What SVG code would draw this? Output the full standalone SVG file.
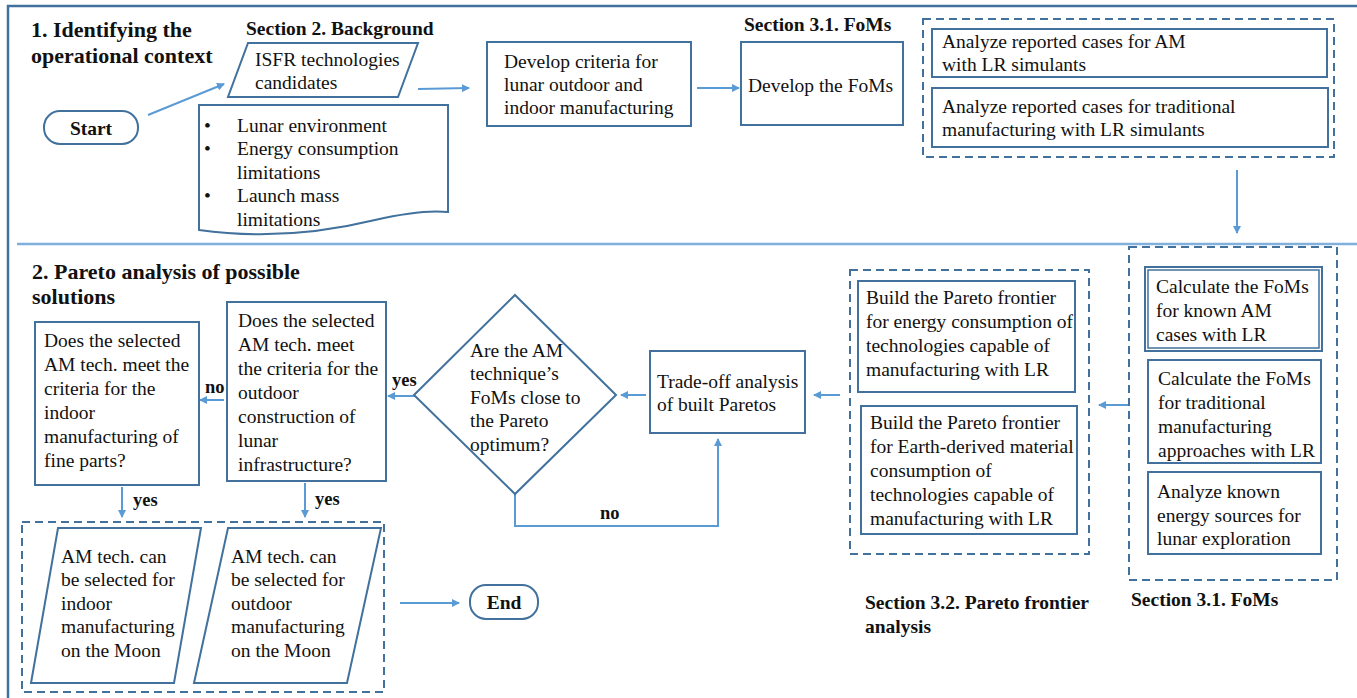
<svg xmlns="http://www.w3.org/2000/svg" width="1357" height="698" viewBox="0 0 1357 698" font-family="'Liberation Serif', 'Times New Roman', Tinos, 'DejaVu Serif', serif">
<defs>
<marker id="ah" markerWidth="8" markerHeight="8" refX="7" refY="4" orient="auto" markerUnits="userSpaceOnUse">
<path d="M0,0 L8,4 L0,8 Z" fill="#5b9bd5"/>
</marker>
<style>
.frame{fill:none;stroke:#41719c;stroke-width:2.5}
.box{fill:#fff;stroke:#41719c;stroke-width:2}
.dash{fill:none;stroke:#41719c;stroke-width:2;stroke-dasharray:8 5}
.conn{fill:none;stroke:#5b9bd5;stroke-width:2;marker-end:url(#ah)}
text{font-family:'Liberation Serif','Times New Roman',Tinos,'DejaVu Serif',serif}
.t{font-size:19.5px;fill:#111}
.b{font-weight:bold;fill:#111}
.h{font-size:22px}
.s{font-size:19.5px}
.l{font-size:18.5px}
</style>
</defs>
<rect width="1357" height="698" fill="#fff"/>
<g id="frame">
<path class="frame" d="M8,700 V6 H1360"/>
<line x1="17" y1="244" x2="1357" y2="244" stroke="#7fb0dc" stroke-width="2.5"/>
</g>
<g id="titles">
<text class="b h" x="31" y="37">1. Identifying the</text>
<text class="b h" x="31" y="63">operational context</text>
<text class="b s" x="246" y="35">Section 2. Background</text>
<text class="b s" x="744" y="31">Section 3.1. FoMs</text>
<text class="b h" x="32" y="279">2. Pareto analysis of possible</text>
<text class="b h" x="32" y="304">solutions</text>
<text class="b s" x="865" y="609">Section 3.2. Pareto frontier</text>
<text class="b s" x="865" y="633">analysis</text>
<text class="b s" x="1131" y="606">Section 3.1. FoMs</text>
</g>
<g id="connectors">
<line class="conn" x1="148" y1="115" x2="224" y2="84"/>
<line class="conn" x1="418" y1="89" x2="469" y2="88"/>
<line class="conn" x1="697" y1="88" x2="739" y2="88"/>
<line class="conn" x1="1237" y1="170" x2="1237" y2="233"/>
<line class="conn" x1="1128" y1="405" x2="1099" y2="405"/>
<line class="conn" x1="840" y1="395" x2="814" y2="395"/>
<line class="conn" x1="646" y1="395" x2="621" y2="395"/>
<path class="conn" d="M515,494 V526 H718 V439"/>
<line class="conn" x1="415" y1="396" x2="388" y2="396"/>
<line class="conn" x1="224" y1="400" x2="200" y2="400"/>
<line class="conn" x1="122" y1="487" x2="122" y2="517"/>
<line class="conn" x1="305" y1="483" x2="305" y2="517"/>
<line class="conn" x1="400" y1="603" x2="459" y2="603"/>
<text class="b l" x="392" y="386">yes</text>
<text class="b l" x="205" y="393">no</text>
<text class="b l" x="133" y="506">yes</text>
<text class="b l" x="315" y="505">yes</text>
<text class="b l" x="600" y="519">no</text>
</g>
<g id="start">
<rect class="box" x="44" y="111" width="94" height="33" rx="16"/>
<text class="b s" x="91" y="135" text-anchor="middle">Start</text>
</g>
<g id="isfr">
<polygon class="box" points="248,43 418,43 398,97 228,97"/>
<text class="t" x="255" y="66">ISFR technologies</text>
<text class="t" x="255" y="89">candidates</text>
</g>
<g id="background">
<path class="box" d="M199,105 H448 V212 C430,210 405,213 375,220 C330,231 270,240 199,230 Z"/>
<text class="t" x="204" y="132">•</text><text class="t" x="237" y="132">Lunar environment</text>
<text class="t" x="204" y="155">•</text><text class="t" x="237" y="155">Energy consumption</text>
<text class="t" x="237" y="179">limitations</text>
<text class="t" x="204" y="202">•</text><text class="t" x="237" y="202">Launch mass</text>
<text class="t" x="237" y="226">limitations</text>
</g>
<g id="criteria">
<rect class="box" x="487" y="42" width="204" height="84"/>
<text class="t" x="504" y="68">Develop criteria for</text>
<text class="t" x="504" y="91">lunar outdoor and</text>
<text class="t" x="504" y="114">indoor manufacturing</text>
</g>
<g id="foms">
<rect class="box" x="741" y="42" width="162" height="83"/>
<text class="t" x="748" y="92">Develop the FoMs</text>
</g>
<g id="reported">
<rect class="dash" x="923" y="19" width="411" height="138"/>
<rect class="box" x="932" y="29" width="395" height="48"/>
<text class="t" x="942" y="48">Analyze reported cases for AM</text>
<text class="t" x="942" y="71">with LR simulants</text>
<rect class="box" x="932" y="88" width="396" height="59"/>
<text class="t" x="942" y="113">Analyze reported cases for traditional</text>
<text class="t" x="942" y="136">manufacturing with LR simulants</text>
</g>
<g id="calc">
<rect class="dash" x="1129" y="247" width="208" height="333"/>
<rect class="box" x="1145" y="267" width="177" height="84"/>
<rect fill="none" stroke="#41719c" stroke-width="1.5" x="1148" y="270" width="171" height="78"/>
<text class="t" x="1156" y="293">Calculate the FoMs</text>
<text class="t" x="1156" y="317">for known AM</text>
<text class="t" x="1156" y="341">cases with LR</text>
<rect class="box" x="1148" y="360" width="173" height="103"/>
<text class="t" x="1158" y="385">Calculate the FoMs</text>
<text class="t" x="1158" y="409">for traditional</text>
<text class="t" x="1158" y="433">manufacturing</text>
<text class="t" x="1158" y="457">approaches with LR</text>
<rect class="box" x="1148" y="472" width="173" height="82"/>
<text class="t" x="1157" y="498">Analyze known</text>
<text class="t" x="1157" y="522">energy sources for</text>
<text class="t" x="1157" y="545">lunar exploration</text>
</g>
<g id="pareto">
<rect class="dash" x="850" y="270" width="239" height="284"/>
<rect class="box" x="858" y="281" width="217" height="111"/>
<text class="t" x="866" y="304">Build the Pareto frontier</text>
<text class="t" x="866" y="328">for energy consumption of</text>
<text class="t" x="866" y="352">technologies capable of</text>
<text class="t" x="866" y="376">manufacturing with LR</text>
<rect class="box" x="861" y="406" width="216" height="128"/>
<text class="t" x="870" y="429">Build the Pareto frontier</text>
<text class="t" x="870" y="453">for Earth-derived material</text>
<text class="t" x="870" y="477">consumption of</text>
<text class="t" x="870" y="501">technologies capable of</text>
<text class="t" x="870" y="525">manufacturing with LR</text>
</g>
<g id="tradeoff">
<rect class="box" x="650" y="351" width="155" height="82"/>
<text class="t" x="657" y="388">Trade-off analysis</text>
<text class="t" x="657" y="411">of built Paretos</text>
</g>
<g id="decision">
<polygon class="box" points="515,295 616,395 515,494 414,395"/>
<text class="t" x="470" y="357">Are the AM</text>
<text class="t" x="470" y="380">technique’s</text>
<text class="t" x="470" y="404">FoMs close to</text>
<text class="t" x="470" y="427">the Pareto</text>
<text class="t" x="470" y="451">optimum?</text>
</g>
<g id="outdoor-q">
<rect class="box" x="227" y="302" width="159" height="179"/>
<text class="t" x="238" y="327">Does the selected</text>
<text class="t" x="238" y="351">AM tech. meet</text>
<text class="t" x="238" y="375">the criteria for the</text>
<text class="t" x="238" y="399">outdoor</text>
<text class="t" x="238" y="423">construction of</text>
<text class="t" x="238" y="447">lunar</text>
<text class="t" x="238" y="471">infrastructure?</text>
</g>
<g id="indoor-q">
<rect class="box" x="35" y="322" width="164" height="163"/>
<text class="t" x="44" y="347">Does the selected</text>
<text class="t" x="44" y="371">AM tech. meet the</text>
<text class="t" x="44" y="395">criteria for the</text>
<text class="t" x="44" y="419">indoor</text>
<text class="t" x="44" y="443">manufacturing of</text>
<text class="t" x="44" y="467">fine parts?</text>
</g>
<g id="results">
<rect class="dash" x="22" y="522" width="362" height="170"/>
<polygon class="box" points="58,528 201,528 174,683 31,683"/>
<text class="t" x="61" y="563">AM tech. can</text>
<text class="t" x="61" y="586">be selected for</text>
<text class="t" x="61" y="610">indoor</text>
<text class="t" x="61" y="633">manufacturing</text>
<text class="t" x="61" y="657">on the Moon</text>
<polygon class="box" points="228,528 381,528 347,683 194,683"/>
<text class="t" x="231" y="563">AM tech. can</text>
<text class="t" x="231" y="586">be selected for</text>
<text class="t" x="231" y="610">outdoor</text>
<text class="t" x="231" y="633">manufacturing</text>
<text class="t" x="231" y="657">on the Moon</text>
</g>
<g id="end">
<rect class="box" x="470" y="585" width="68" height="34" rx="16"/>
<text class="b s" x="504" y="609" text-anchor="middle">End</text>
</g>
</svg>
